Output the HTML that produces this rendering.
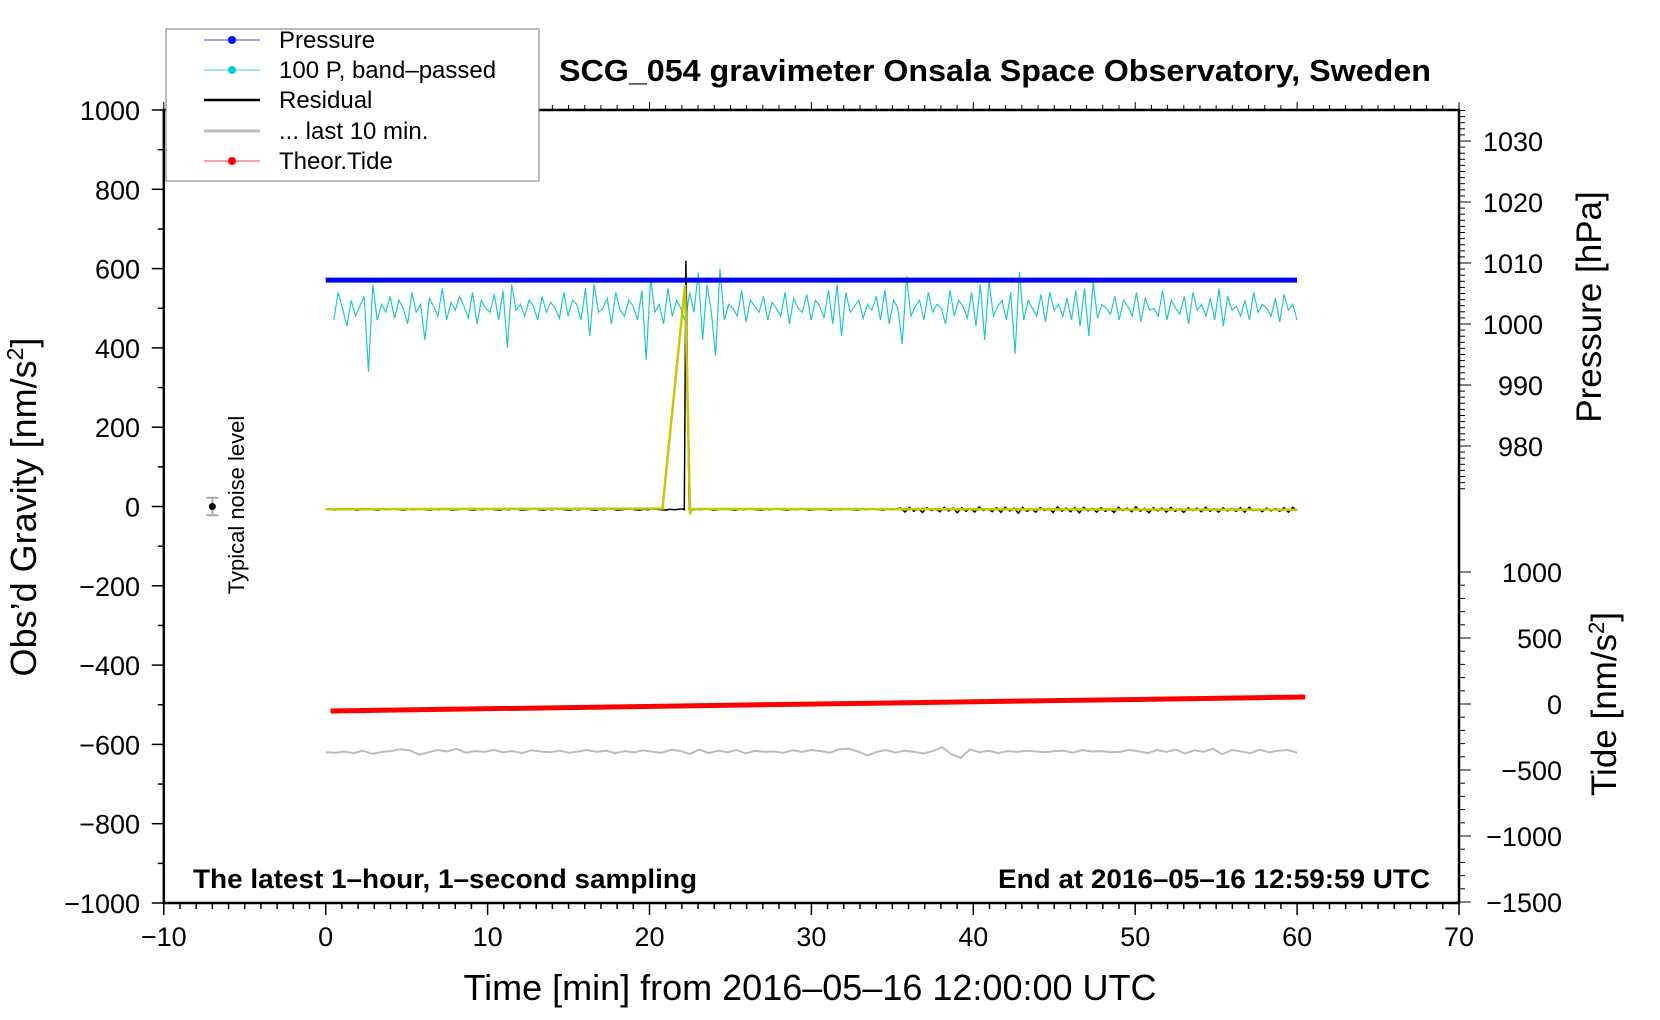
<!DOCTYPE html>
<html><head><meta charset="utf-8"><style>
body{margin:0;background:#fff}
svg{display:block;font-family:"Liberation Sans",sans-serif}
</style></head><body>
<svg id="c" width="1660" height="1020" viewBox="0 0 1660 1020">
<g id="marks"></g>
<g id="axes"></g>
<text x="995" y="81" text-anchor="middle" font-size="31" font-weight="bold" textLength="872" lengthAdjust="spacingAndGlyphs">SCG_054 gravimeter Onsala Space Observatory, Sweden</text>
<text x="193" y="888" font-size="27" font-weight="bold" textLength="504" lengthAdjust="spacingAndGlyphs">The latest 1–hour, 1–second sampling</text>
<text x="1430" y="888" text-anchor="end" font-size="27" font-weight="bold" textLength="432" lengthAdjust="spacingAndGlyphs">End at 2016–05–16 12:59:59 UTC</text>
<text x="810" y="1000" text-anchor="middle" font-size="36">Time [min] from 2016–05–16 12:00:00 UTC</text>
<text transform="translate(36,507) rotate(-90)" text-anchor="middle" font-size="36">Obs’d Gravity [nm/s<tspan dy="-13" font-size="23">2</tspan><tspan dy="13">]</tspan></text>
<text transform="translate(1601,307) rotate(-90)" text-anchor="middle" font-size="35">Pressure [hPa]</text>
<text transform="translate(1616,704) rotate(-90)" text-anchor="middle" font-size="35">Tide [nm/s<tspan dy="-12" font-size="22">2</tspan><tspan dy="12">]</tspan></text>
<text transform="translate(244,505) rotate(-90)" text-anchor="middle" font-size="22">Typical noise level</text>
<g>
<rect x="166" y="29" width="373" height="152" fill="#fff" stroke="#777" stroke-width="1"/>
<line x1="204" y1="40" x2="260" y2="40" stroke="#4040ff" stroke-width="1"/><circle cx="232" cy="40" r="4" fill="#00f"/>
<text x="279" y="48" font-size="24">Pressure</text>
<line x1="204" y1="70" x2="260" y2="70" stroke="#40d0d0" stroke-width="1"/><circle cx="232" cy="70" r="4" fill="#0cc"/>
<text x="279" y="78" font-size="24">100 P, band–passed</text>
<line x1="204" y1="100" x2="260" y2="100" stroke="#000" stroke-width="2.5"/>
<text x="279" y="108" font-size="24">Residual</text>
<line x1="204" y1="131" x2="260" y2="131" stroke="#bbb" stroke-width="3"/>
<text x="279" y="139" font-size="24">... last 10 min.</text>
<line x1="204" y1="161" x2="260" y2="161" stroke="#f44" stroke-width="1"/><circle cx="232" cy="161" r="4" fill="#f00"/>
<text x="279" y="169" font-size="24">Theor.Tide</text>
</g>
</svg>
<script>
const xTicks=[-10,0,10,20,30,40,50,60,70];
const gTicks=[1000,800,600,400,200,0,-200,-400,-600,-800,-1000];
const pTicks=[1030,1020,1010,1000,990,980];
const tTicks=[1000,500,0,-500,-1000,-1500];
const pressureVal=1007.2;
const cyan=[470,540,500,455,520,480,505,530,340,560,470,510,490,530,475,520,500,460,540,490,510,420,525,505,480,550,470,515,495,530,505,475,540,460,520,500,490,535,470,545,400,560,495,510,480,520,505,470,530,490,515,500,475,540,480,520,510,470,550,430,560,490,500,525,460,540,495,480,520,505,470,545,370,575,490,510,460,550,480,520,500,465,540,490,590,420,560,490,380,600,470,510,500,480,545,465,520,505,490,530,470,515,500,480,540,460,525,500,490,535,470,520,505,475,545,460,560,430,540,490,505,520,475,510,495,530,470,545,460,520,500,410,580,480,505,520,470,540,490,510,500,460,545,480,520,505,475,540,455,560,420,570,480,505,520,470,540,385,590,470,520,500,480,535,465,540,495,510,480,525,470,545,455,550,430,565,475,510,500,485,530,470,520,505,480,540,465,525,495,500,480,545,470,520,500,485,530,460,540,495,510,480,525,470,550,455,530,495,505,480,520,470,540,490,510,500,480,525,465,535,495,510,470];
const resid=[-8,-6,-9,-7,-8,-6,-7,-9,-8,-7,-6,-8,-9,-7,-8,-6,-7,-8,-9,-7,-8,-7,-6,-8,-9,-7,-8,-6,-7,-9,-8,-7,-6,-8,-9,-7,-8,-6,-7,-8,-9,-7,-8,-6,-7,-9,-8,-7,-6,-8,-9,-7,-8,-6,-7,-8,-9,-7,-8,-7,-6,-8,-9,-7,-8,-6,-7,-9,-8,-7,-6,-8,-9,-7,-8,-6,-7,-8,-9,-7,-8,-7,-6,-8,-9,-7,-8,-6,-7,-9,-8,-7,-6,-8,-9,-7,-8,-6,-7,-8,-9,-7,-8,-7,-6,-8,-9,-7,-8,-6,-7,-9,-8,-7,-6,-8,-9,-7,-8,-6,-7,-8,-9,-7,-8,-7,-6,-8,-9,-7,-8,-6,-4,-14,-2,-12,-5,-15,-3,-10,-6,-13,-2,-11,-4,-16,-3,-12,-5,-14,-1,-10,-6,-13,-3,-15,-2,-11,-4,-17,-2,-12,-6,-14,-3,-10,-5,-15,-1,-12,-4,-13,-3,-16,-2,-11,-5,-14,-3,-12,-6,-15,-2,-10,-4,-13,-1,-12,-5,-16,-3,-11,-4,-14,-2,-12,-6,-15,-3,-10,-4,-13,-2,-12,-5,-14,-3,-11,-5,-12,-3,-14,-2,-10,-6,-13,-4,-11,-5,-12,-3,-14,-2,-10];
const spikeT=[22.15,22.25,22.45,22.55];
const spikeV=[-8,620,-8,-10];
const yellowT=[0,20.8,22.2,22.5,22.6,60];
const yellowV=[-7,-5,560,-20,-6,-8];
const gray=[-620,-621,-618,-622,-616,-624,-619,-617,-612,-615,-626,-620,-614,-618,-611,-621,-617,-619,-614,-620,-617,-622,-615,-618,-620,-616,-621,-618,-614,-619,-616,-622,-617,-620,-615,-619,-621,-613,-617,-624,-613,-622,-616,-620,-614,-623,-616,-619,-618,-621,-615,-619,-614,-617,-621,-612,-611,-618,-628,-619,-614,-621,-616,-619,-623,-617,-607,-625,-634,-612,-620,-616,-622,-617,-619,-616,-618,-620,-617,-616,-621,-614,-618,-617,-620,-619,-614,-617,-622,-614,-619,-613,-623,-615,-619,-611,-625,-614,-618,-622,-613,-620,-616,-614,-621];
const tideStart=-53, tideEnd=53;

const X=t=>325.7+t*16.19;
const G=v=>506.5-v*0.3965;
const P=p=>141+(1030-p)*6.1;
const T=v=>704-v*0.132;
const NS='http://www.w3.org/2000/svg';
const marks=document.getElementById('marks'), axes=document.getElementById('axes');
function el(tag,attrs,parent){const e=document.createElementNS(NS,tag);for(const k in attrs)e.setAttribute(k,attrs[k]);parent.appendChild(e);return e;}
function series(ts,vs,f){return ts.map((t,i)=>X(t).toFixed(1)+','+f(vs[i]).toFixed(1)).join(' ');}
const lin=(n,a,b)=>Array.from({length:n},(_,i)=>a+(b-a)*i/(n-1));

let e=el('line',{x1:X(0.3),y1:T(tideStart),x2:X(60.5),y2:T(tideEnd),stroke:'#f00','stroke-width':5},marks);


e=el('polyline',{points:series(lin(gray.length,0,60),gray,G),fill:'none',stroke:'#bbb','stroke-width':2},marks);


e=el('polyline',{points:series(lin(cyan.length,0.5,60),cyan,G),fill:'none',stroke:'#22c8c8','stroke-width':1.2},marks);


e=el('line',{x1:X(0),y1:P(pressureVal),x2:X(60),y2:P(pressureVal),stroke:'#00f','stroke-width':5},marks);


const rt=lin(resid.length,0,60);
const pts=[];rt.forEach((t,i)=>{if(t<22.15||t>22.55)pts.push([t,resid[i]]);});
const before=pts.filter(p=>p[0]<22.15), after=pts.filter(p=>p[0]>22.55);
const all=before.concat(spikeT.map((t,i)=>[t,spikeV[i]])).concat(after);
e=el('polyline',{points:all.map(p=>X(p[0]).toFixed(1)+','+G(p[1]).toFixed(1)).join(' '),fill:'none',stroke:'#000','stroke-width':1.5},marks);


e=el('polyline',{points:series(yellowT,yellowV,G),fill:'none',stroke:'#c8c800','stroke-width':2.5},marks);


e=el('line',{x1:X(-7),y1:G(22),x2:X(-7),y2:G(-22),stroke:'#aaa','stroke-width':2},marks);


el('line',{x1:X(-7)-6,y1:G(22),x2:X(-7)+6,y2:G(22),stroke:'#aaa','stroke-width':2},marks);
el('line',{x1:X(-7)-6,y1:G(-22),x2:X(-7)+6,y2:G(-22),stroke:'#aaa','stroke-width':2},marks);
el('circle',{cx:X(-7),cy:G(0),r:3.5,fill:'#000'},marks);

e=el('rect',{x:X(-10),y:G(1000),width:X(70)-X(-10),height:G(-1000)-G(1000),fill:'none',stroke:'#000','stroke-width':2.5},axes);


for(let t=-10;t<=70;t++){const maj=t%10===0;
 el('line',{x1:X(t),y1:G(-1000),x2:X(t),y2:G(-1000)+(maj?12:6),stroke:'#000','stroke-width':1.5},axes);
 el('line',{x1:X(t),y1:G(1000),x2:X(t),y2:G(1000)-(maj?8:5),stroke:'#000','stroke-width':1},axes);}
xTicks.forEach(t=>{const s=el('text',{x:X(t),y:946,'text-anchor':'middle','font-size':27},axes);s.textContent=String(t).replace('-','\u2212');
 
 });
for(let v=-1000;v<=1000;v+=100){const maj=v%200===0;
 el('line',{x1:X(-10),y1:G(v),x2:X(-10)-(maj?12:6),y2:G(v),stroke:'#000','stroke-width':1.5},axes);}
gTicks.forEach(v=>{const s=el('text',{x:140,y:G(v)+10,'text-anchor':'end','font-size':27},axes);s.textContent=String(v).replace('-','\u2212');
 
 });
for(let p=1035;p>=973;p--){const maj=p%10===0;const y=P(p);if(y<G(1000)-2)continue;
 el('line',{x1:X(70),y1:y,x2:X(70)+(maj?12:6),y2:y,stroke:'#000','stroke-width':1},axes);}
pTicks.forEach(p=>{const s=el('text',{x:1543,y:P(p)+10,'text-anchor':'end','font-size':27},axes);s.textContent=p;
 
 });
for(let v=1000;v>=-1500;v-=100){const maj=v%500===0;
 el('line',{x1:X(70),y1:T(v),x2:X(70)+(maj?12:6),y2:T(v),stroke:'#000','stroke-width':1},axes);}
tTicks.forEach(v=>{const s=el('text',{x:1562,y:T(v)+10,'text-anchor':'end','font-size':27},axes);s.textContent=String(v).replace('-','\u2212');
 
 });
</script>
</body></html>
